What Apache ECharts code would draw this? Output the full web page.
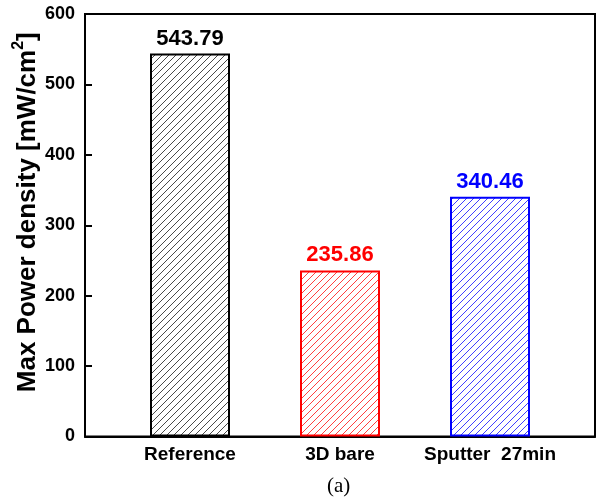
<!DOCTYPE html>
<html>
<head>
<meta charset="utf-8">
<script src="https://cdn.jsdelivr.net/npm/echarts@6/dist/echarts.min.js"></script>
<style>
  html, body { margin: 0; padding: 0; background: #fff; }
  #chart { width: 600px; height: 500px; }
</style>
</head>
<body>
<div id="chart"></div>
<script>
// Samples and their maximum power density (mW/cm²)
const categories = ['Reference', '3D bare', 'Sputter  27min'];
const maxPowerDensity = [543.79, 235.86, 340.46];
const barColors = ['#000000', '#ff0000', '#0000ff'];
const hatchColors = ['#4a4a4a', '#ff4040', '#4040ff'];
const yTicks = [0, 100, 200, 300, 400, 500, 600];

const FONT = '"Liberation Sans", Arial, sans-serif';

// Diagonal hatch fill drawn on a small repeating tile
function hatch(color) {
  const s = 7;
  const c = document.createElement('canvas');
  c.width = s; c.height = s;
  const g = c.getContext('2d');
  g.fillStyle = '#ffffff';
  g.fillRect(0, 0, s, s);
  g.strokeStyle = color;
  g.lineWidth = 1;
  g.beginPath();
  g.moveTo(-1, s + 1); g.lineTo(s + 1, -1);
  g.moveTo(-1, 1); g.lineTo(1, -1);
  g.moveTo(s - 1, s + 1); g.lineTo(s + 1, s - 1);
  g.stroke();
  return { image: c, repeat: 'repeat' };
}

const chart = echarts.init(document.getElementById('chart'), null, { renderer: 'canvas' });

chart.setOption({
  animation: false,
  backgroundColor: '#ffffff',
  grid: {
    left: 85, right: 5, top: 14, bottom: 63.5,
    containLabel: false, outerBoundsMode: 'none',
    show: true, borderColor: '#000', borderWidth: 2, backgroundColor: 'transparent'
  },
  xAxis: {
    type: 'value',
    min: 0.3, max: 3.7,
    splitLine: { show: false },
    axisTick: { show: false },
    axisLine: { show: true, lineStyle: { color: '#000', width: 2 } },
    axisLabel: {
      customValues: [1, 2, 3],
      formatter: v => categories[Math.round(v) - 1] || '',
      fontFamily: FONT, fontWeight: 'bold', fontSize: 19, color: '#000',
      margin: 9
    }
  },
  yAxis: {
    type: 'value',
    min: 0, max: 600, interval: 100,
    splitLine: { show: false },
    axisLine: { show: true, lineStyle: { color: '#000', width: 2 } },
    axisTick: { show: true, inside: true, length: 7, lineStyle: { color: '#000', width: 2 } },
    axisLabel: {
      customValues: yTicks,
      fontFamily: FONT, fontWeight: 'bold', fontSize: 18, color: '#000', margin: 10
    },
    name: '{t|Max Power density [mW/cm}{s|2}{t|]}',
    nameLocation: 'middle',
    nameGap: 44,
    nameMoveOverlap: false,
    nameTextStyle: {
      padding: [0, 0, 0, 26],
      rich: {
        t: { fontFamily: FONT, fontWeight: 'bold', fontSize: 26, color: '#000', lineHeight: 30, verticalAlign: 'bottom' },
        s: { fontFamily: FONT, fontWeight: 'bold', fontSize: 16, color: '#000', lineHeight: 30, verticalAlign: 'top' }
      }
    }
  },
  series: [{
    type: 'bar',
    barWidth: 80,
    data: maxPowerDensity.map((v, i) => ({
      value: [i + 1, v],
      itemStyle: { color: hatch(hatchColors[i]), borderColor: barColors[i], borderWidth: 2 },
      label: { color: barColors[i] }
    })),
    label: {
      show: true,
      position: 'top',
      distance: 4,
      formatter: p => p.value[1].toFixed(2),
      fontFamily: FONT, fontWeight: 'bold', fontSize: 22
    }
  }],
  graphic: [{
    type: 'text',
    left: 327, top: 476,
    style: {
      text: '(a)',
      font: '21px "Liberation Serif", "Times New Roman", serif',
      fill: '#000'
    }
  }]
});
</script>
</body>
</html>
